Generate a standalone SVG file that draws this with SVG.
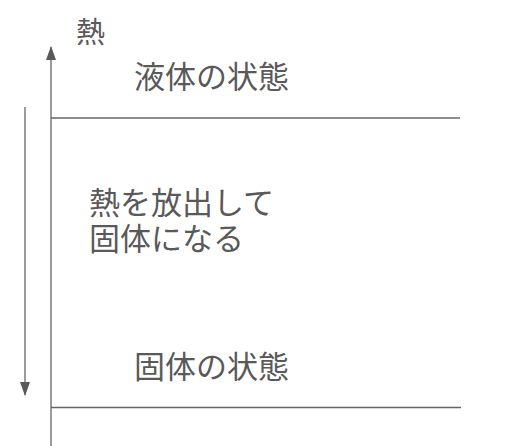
<svg xmlns="http://www.w3.org/2000/svg" width="513" height="446" viewBox="0 0 513 446">
<style>
.t{font-family:"Noto Sans CJK JP","Noto Sans CJK SC",sans-serif;fill:#595959}
.l{stroke:#666;stroke-width:1.3;fill:none}
</style>
<defs>
<marker id="ah" markerWidth="14" markerHeight="10" refX="13" refY="5" orient="auto" markerUnits="userSpaceOnUse">
<path d="M0,0 L14,5 L0,10 Z" fill="#595959"/>
</marker>
</defs>
<rect width="513" height="446" fill="#fff"/>
<g id="connectors">
<line class="l" x1="51" y1="446" x2="51" y2="47" marker-end="url(#ah)"/>
<line class="l" x1="25" y1="107" x2="25" y2="395" marker-end="url(#ah)"/>
<line class="l" x1="51" y1="118" x2="460" y2="118"/>
<line class="l" x1="51" y1="407.5" x2="461" y2="407.5"/>
</g>
<g id="heat-label"><text class="t" x="76" y="43" font-size="29">熱</text></g>
<g id="liquid"><text class="t" x="134" y="88" font-size="31">液体の状態</text></g>
<g id="release"><text class="t" font-size="31"><tspan x="89" y="214">熱を放出して</tspan><tspan x="89" y="250">固体になる</tspan></text></g>
<g id="solid"><text class="t" x="134" y="378" font-size="31">固体の状態</text></g>
</svg>
